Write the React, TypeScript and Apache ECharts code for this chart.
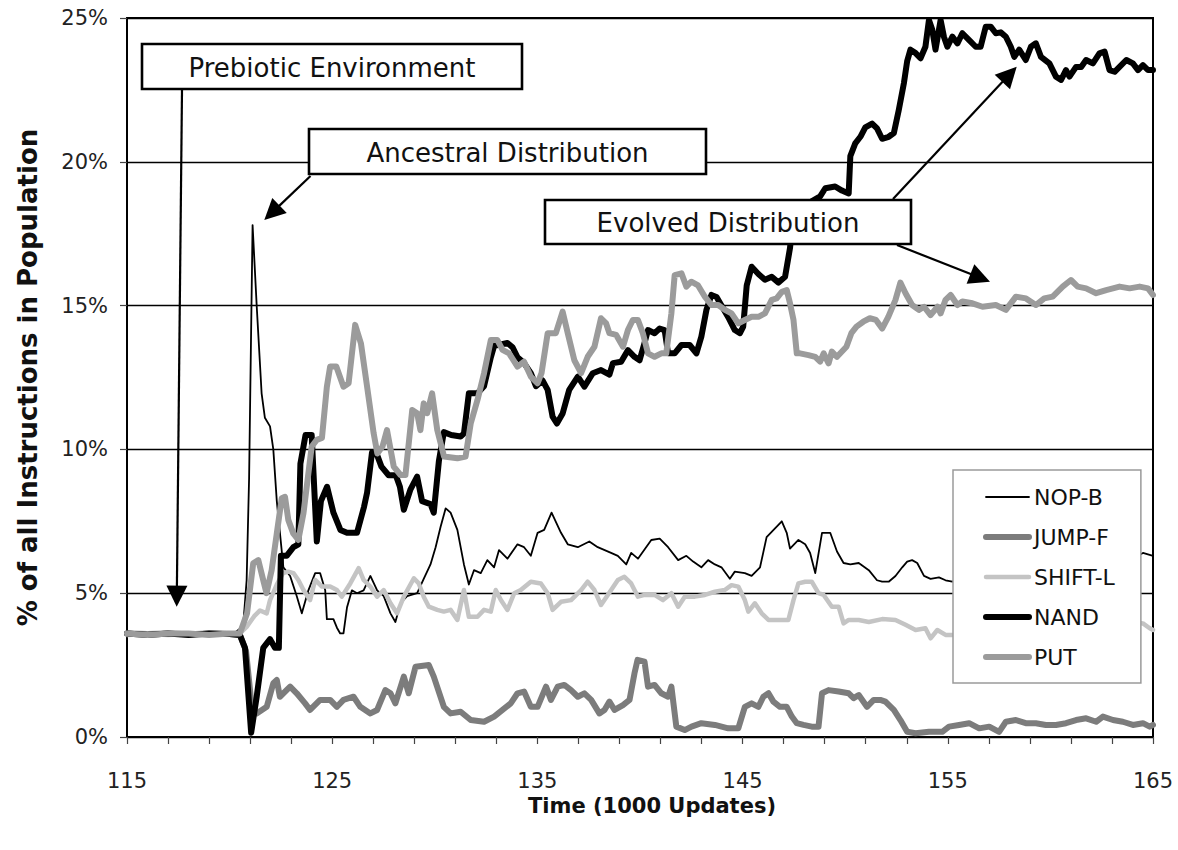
import React, { useEffect, useRef } from 'react';
import * as echarts from 'echarts';

type Pt = [number, number];

const seriesNames = ['NOP-B', 'JUMP-F', 'SHIFT-L', 'NAND', 'PUT'];
const xTickLabels = [115, 125, 135, 145, 155, 165];
const yTickLabels = ['0%', '5%', '10%', '15%', '20%', '25%'];
const xTitle = 'Time (1000 Updates)';
const yTitle = '% of all Instructions in Population';

const nopB: Pt[] = [
  [115, 3.6], [116, 3.62], [117, 3.58], [118, 3.6], [119, 3.62], [120, 3.6], [120.3, 3.65], [120.66, 3.85],
  [120.83, 5.45], [120.95, 9.0], [121.12, 17.8], [121.32, 15.0], [121.56, 11.95], [121.72, 11.1], [121.97, 10.8],
  [122.13, 10.0], [122.3, 8.2], [122.62, 5.9], [122.95, 5.6], [123.27, 4.9], [123.52, 4.3], [123.84, 5.1],
  [124.17, 5.7], [124.41, 5.7], [124.66, 5.1], [124.74, 4.1], [125.06, 4.1], [125.23, 3.8], [125.39, 3.6],
  [125.55, 3.6], [125.72, 4.5], [125.96, 5.1], [126.21, 5.0], [126.53, 5.1], [126.86, 5.6], [127.19, 5.1],
  [127.51, 4.9], [127.84, 4.3], [128.08, 4.0], [128.33, 4.65], [128.65, 4.9], [129.14, 5.0], [129.46, 5.5],
  [129.79, 6.0], [130.04, 6.6], [130.28, 7.3], [130.53, 7.95], [130.77, 7.8], [131.1, 7.2], [131.42, 6.0],
  [131.66, 5.3], [131.91, 5.8], [132.24, 5.7], [132.56, 6.15], [132.89, 5.9], [133.13, 6.5], [133.54, 6.2],
  [134.03, 6.7], [134.35, 6.6], [134.68, 6.3], [135.01, 7.1], [135.33, 7.2], [135.69, 7.8], [136.15, 7.1],
  [136.48, 6.7], [136.97, 6.6], [137.53, 6.8], [137.94, 6.6], [138.59, 6.4], [138.92, 6.3], [139.33, 6.0],
  [139.57, 6.4], [139.9, 6.2], [140.55, 6.85], [140.96, 6.9], [141.37, 6.6], [141.86, 6.15], [142.26, 6.3],
  [142.59, 6.1], [142.99, 5.9], [143.32, 6.15], [143.65, 6.0], [143.97, 5.9], [144.38, 5.5], [144.62, 5.75],
  [145.11, 5.7], [145.44, 5.6], [145.85, 5.9], [146.17, 6.95], [146.58, 7.25], [146.91, 7.5], [147.15, 7.1],
  [147.31, 6.55], [147.72, 6.85], [148.05, 6.7], [148.29, 6.4], [148.54, 5.7], [148.87, 7.1], [149.27, 7.1],
  [149.6, 6.45], [149.92, 6.05], [150.25, 6.0], [150.66, 6.05], [151.15, 5.8], [151.55, 5.45], [151.8, 5.4],
  [152.12, 5.4], [152.45, 5.6], [152.78, 5.9], [153.02, 6.1], [153.26, 6.15], [153.51, 6.05], [153.84, 5.6],
  [154.16, 5.5], [154.57, 5.55], [154.89, 5.45], [155.22, 5.4], [156, 5.6], [157, 5.5], [158, 5.8], [159, 5.7],
  [160, 6.0], [161, 5.9], [162, 6.1], [163, 6.0], [164, 6.2], [164.51, 6.4], [165, 6.3],
];

const jumpF: Pt[] = [
  [115, 3.6], [116, 3.58], [117, 3.6], [118, 3.57], [119, 3.6], [120, 3.58], [120.5, 3.55], [120.8, 3.0],
  [121.1, 0.9], [121.32, 0.82], [121.81, 1.05], [122.13, 1.87], [122.3, 1.98], [122.45, 1.4], [122.95, 1.75],
  [123.27, 1.52], [123.68, 1.17], [123.92, 0.94], [124.41, 1.29], [124.9, 1.29], [125.23, 1.05], [125.55, 1.29],
  [126.04, 1.4], [126.37, 1.05], [126.86, 0.82], [127.19, 0.94], [127.59, 1.63], [127.84, 1.52], [128.08, 1.17],
  [128.49, 2.1], [128.73, 1.52], [129.06, 2.44], [129.71, 2.5], [129.95, 2.1], [130.44, 1.05], [130.77, 0.82],
  [131.26, 0.88], [131.75, 0.59], [132.4, 0.53], [132.89, 0.71], [133.3, 0.94], [133.7, 1.17], [134.03, 1.52],
  [134.35, 1.58], [134.68, 1.05], [135.01, 1.05], [135.42, 1.75], [135.66, 1.29], [135.99, 1.75], [136.31, 1.81],
  [136.64, 1.63], [136.97, 1.4], [137.29, 1.52], [137.62, 1.29], [138.02, 0.82], [138.27, 0.94], [138.51, 1.23],
  [138.76, 0.94], [139.17, 1.11], [139.49, 1.29], [139.73, 2.21], [139.88, 2.68], [140.22, 2.62], [140.39, 1.75],
  [140.71, 1.81], [141.04, 1.52], [141.37, 1.4], [141.53, 1.75], [141.77, 0.36], [142.18, 0.24], [142.51, 0.36],
  [142.99, 0.48], [143.65, 0.42], [144.3, 0.3], [144.79, 0.3], [145.11, 1.05], [145.44, 1.17], [145.77, 1.05],
  [146.01, 1.4], [146.26, 1.52], [146.5, 1.23], [146.82, 1.05], [147.15, 1.05], [147.4, 0.71], [147.64, 0.48],
  [147.97, 0.42], [148.37, 0.36], [148.7, 0.36], [148.87, 1.52], [149.19, 1.63], [149.68, 1.58], [150.17, 1.52],
  [150.41, 1.35], [150.66, 1.46], [151.06, 1.05], [151.39, 1.29], [151.71, 1.29], [151.96, 1.23], [152.37, 0.94],
  [152.69, 0.59], [153.02, 0.18], [153.43, 0.13], [154.08, 0.18], [154.73, 0.18], [155.06, 0.36], [155.55, 0.42],
  [156.04, 0.48], [156.53, 0.3], [157.02, 0.36], [157.5, 0.18], [157.83, 0.53], [158.32, 0.59], [158.8, 0.48],
  [159.29, 0.48], [159.78, 0.42], [160.27, 0.42], [160.76, 0.48], [161.25, 0.59], [161.74, 0.65], [162.23, 0.53],
  [162.56, 0.71], [163.05, 0.59], [163.53, 0.53], [164.02, 0.42], [164.51, 0.48], [164.84, 0.36], [165, 0.42],
];

const shiftL: Pt[] = [
  [115, 3.55], [116, 3.58], [117, 3.55], [118, 3.58], [119, 3.55], [120, 3.57], [120.5, 3.6], [120.83, 3.83],
  [121.2, 4.2], [121.48, 4.4], [121.81, 4.3], [121.97, 4.76], [122.3, 5.3], [122.6, 5.7], [122.86, 5.75],
  [123.11, 5.7], [123.35, 5.46], [123.6, 5.11], [123.92, 4.76], [124.17, 5.46], [124.5, 5.23], [124.9, 5.23],
  [125.23, 5.11], [125.47, 4.88], [125.88, 5.34], [126.29, 5.87], [126.53, 5.46], [126.86, 5.23], [127.19, 4.88],
  [127.51, 5.11], [127.84, 4.65], [128.16, 4.3], [128.49, 4.88], [128.98, 5.52], [129.22, 5.34], [129.46, 4.88],
  [129.71, 4.53], [130.12, 4.42], [130.44, 4.36], [130.77, 4.42], [131.1, 4.07], [131.42, 5.11], [131.66, 4.18],
  [132.08, 4.18], [132.4, 4.42], [132.73, 4.36], [132.97, 5.11], [133.22, 4.76], [133.54, 4.42], [133.87, 5.0],
  [134.19, 5.11], [134.68, 5.4], [135.17, 5.34], [135.5, 5.0], [135.74, 4.42], [136.15, 4.7], [136.64, 4.76],
  [137.13, 5.11], [137.45, 5.4], [137.78, 5.11], [138.1, 4.59], [138.43, 4.94], [138.92, 5.46], [139.24, 5.57],
  [139.57, 5.34], [139.9, 4.88], [140.22, 4.94], [140.71, 4.94], [141.12, 4.76], [141.53, 5.0], [141.86, 4.53],
  [142.18, 4.88], [142.67, 4.88], [143.16, 4.94], [143.65, 5.05], [144.13, 5.11], [144.46, 5.28], [144.79, 5.23],
  [145.11, 4.76], [145.28, 4.36], [145.6, 4.65], [145.93, 4.3], [146.26, 4.07], [146.91, 4.07], [147.23, 4.07],
  [147.48, 4.76], [147.72, 5.34], [148.05, 5.4], [148.37, 5.4], [148.7, 5.0], [148.95, 4.94], [149.35, 4.53],
  [149.68, 4.53], [149.92, 3.95], [150.17, 4.07], [150.66, 4.07], [151.15, 4.0], [151.8, 4.1], [152.45, 4.07],
  [152.94, 3.9], [153.43, 3.72], [153.91, 3.78], [154.16, 3.43], [154.49, 3.72], [154.89, 3.55], [155.3, 3.55],
  [156, 3.7], [157, 3.6], [158, 3.8], [159, 3.7], [160, 3.9], [161, 3.8], [162, 3.9], [163, 3.85], [164, 4.0],
  [164.51, 3.95], [164.84, 3.78], [165, 3.72],
];

const nand: Pt[] = [
  [115, 3.6], [116, 3.55], [117, 3.6], [118, 3.55], [119, 3.6], [120, 3.58], [120.5, 3.55], [120.75, 3.1],
  [121.05, 0.15], [121.32, 1.4], [121.64, 3.1], [121.97, 3.4], [122.21, 3.1], [122.4, 3.1], [122.5, 6.3],
  [122.78, 6.3], [123.11, 6.6], [123.35, 6.7], [123.45, 9.5], [123.7, 10.5], [124.0, 10.5], [124.25, 6.8],
  [124.45, 8.2], [124.75, 8.7], [125.06, 7.8], [125.4, 7.2], [125.72, 7.1], [126.21, 7.1], [126.55, 8.0],
  [126.7, 8.5], [126.94, 9.9], [127.19, 9.8], [127.4, 9.4], [127.75, 9.1], [128.1, 9.1], [128.3, 8.7],
  [128.49, 7.9], [128.81, 8.6], [129.14, 9.05], [129.38, 8.2], [129.79, 8.1], [129.95, 7.8], [130.2, 9.6],
  [130.44, 10.6], [130.8, 10.5], [131.26, 10.45], [131.42, 10.55], [131.66, 11.95], [132.08, 11.95], [132.4, 12.2],
  [132.73, 13.2], [132.89, 13.6], [133.54, 13.7], [133.79, 13.55], [134.03, 13.2], [134.35, 13.0], [134.68, 12.65],
  [134.93, 12.2], [135.25, 12.4], [135.5, 12.07], [135.74, 11.14], [135.95, 10.9], [136.23, 11.25], [136.55, 12.07],
  [136.97, 12.53], [137.29, 12.18], [137.7, 12.65], [138.1, 12.76], [138.51, 12.6], [138.68, 13.0], [139.08, 13.05],
  [139.41, 13.45], [139.73, 13.22], [139.98, 13.1], [140.22, 13.7], [140.39, 14.15], [140.71, 14.04], [140.96, 14.2],
  [141.2, 14.15], [141.37, 13.34], [141.69, 13.34], [142.02, 13.63], [142.42, 13.63], [142.75, 13.34], [142.99, 13.92],
  [143.24, 14.86], [143.48, 15.37], [143.73, 15.3], [143.97, 15.0], [144.3, 14.6], [144.62, 14.15], [144.87, 14.04],
  [145.03, 14.27], [145.2, 15.7], [145.44, 16.35], [145.77, 16.1], [146.09, 15.9], [146.42, 16.0], [146.75, 15.8],
  [147.07, 16.0], [147.31, 17.0], [147.45, 18.0], [147.8, 18.4], [148.3, 18.6], [148.78, 18.8], [149.03, 19.08],
  [149.51, 19.14], [149.84, 19.0], [150.17, 18.9], [150.25, 20.2], [150.49, 20.64], [150.74, 20.87], [150.98, 21.2],
  [151.31, 21.33], [151.55, 21.16], [151.8, 20.8], [152.12, 20.87], [152.37, 21.0], [152.61, 21.8], [152.86, 22.73],
  [153.02, 23.5], [153.18, 23.9], [153.43, 23.78], [153.67, 23.6], [153.91, 24.0], [154.08, 24.93], [154.24, 24.6],
  [154.4, 23.9], [154.65, 24.93], [154.81, 24.35], [154.98, 24.0], [155.22, 24.35], [155.47, 24.12], [155.71, 24.47],
  [156.04, 24.23], [156.36, 24.0], [156.6, 24.0], [156.85, 24.7], [157.09, 24.7], [157.34, 24.47], [157.58, 24.5],
  [157.83, 24.35], [158.07, 24.0], [158.24, 23.65], [158.48, 23.9], [158.8, 23.54], [159.05, 24.0], [159.29, 24.12],
  [159.54, 23.65], [159.95, 23.42], [160.27, 22.96], [160.52, 22.85], [160.76, 23.19], [160.93, 22.96], [161.25, 23.3],
  [161.5, 23.3], [161.74, 23.54], [162.07, 23.42], [162.39, 23.77], [162.64, 23.83], [162.88, 23.19], [163.13, 23.13],
  [163.37, 23.3], [163.7, 23.54], [164.02, 23.42], [164.27, 23.19], [164.51, 23.36], [164.76, 23.19], [165, 23.19],
];

const put: Pt[] = [
  [115, 3.6], [116, 3.55], [117, 3.6], [118, 3.6], [119, 3.55], [120, 3.6], [120.5, 3.6], [120.85, 4.3],
  [121.15, 6.04], [121.4, 6.15], [121.64, 5.45], [121.8, 5.0], [122.05, 5.8], [122.3, 7.08], [122.54, 8.3],
  [122.7, 8.35], [122.86, 7.55], [123.1, 7.08], [123.35, 6.85], [123.6, 7.78], [124.0, 10.1], [124.25, 10.33],
  [124.5, 10.4], [124.74, 12.18], [124.9, 12.88], [125.2, 12.88], [125.55, 12.18], [125.8, 12.3], [126.12, 14.33],
  [126.4, 13.69], [126.7, 12.18], [127.02, 10.56], [127.2, 9.86], [127.45, 10.1], [127.67, 10.67], [128.0, 9.4],
  [128.33, 9.11], [128.57, 9.11], [128.9, 11.37], [129.14, 11.26], [129.3, 10.67], [129.46, 11.6], [129.63, 11.26],
  [129.87, 11.95], [130.12, 10.67], [130.45, 9.75], [131.1, 9.69], [131.5, 9.75], [131.75, 10.9], [132.08, 11.72],
  [132.4, 12.65], [132.73, 13.8], [133.05, 13.8], [133.3, 13.46], [133.62, 13.34], [134.03, 12.88], [134.35, 13.05],
  [134.68, 12.53], [135.01, 12.3], [135.2, 12.65], [135.5, 14.04], [135.9, 14.04], [136.23, 14.79], [136.48, 14.04],
  [136.8, 13.1], [137.13, 12.65], [137.45, 13.22], [137.78, 13.57], [138.1, 14.56], [138.35, 14.38], [138.51, 14.04],
  [138.84, 13.98], [139.17, 13.57], [139.41, 14.15], [139.65, 14.5], [139.9, 14.5], [140.14, 14.04], [140.39, 13.34],
  [140.71, 13.22], [141.04, 13.34], [141.28, 13.34], [141.53, 14.73], [141.69, 16.06], [142.02, 16.12], [142.26, 15.66],
  [142.5, 15.83], [142.83, 15.7], [143.16, 15.31], [143.48, 15.02], [143.81, 15.02], [144.14, 14.85], [144.46, 14.73],
  [144.79, 14.38], [145.11, 14.5], [145.44, 14.61], [145.77, 14.61], [146.09, 14.73], [146.42, 15.2], [146.66, 15.25],
  [146.91, 15.48], [147.15, 15.54], [147.31, 15.08], [147.48, 14.5], [147.64, 13.34], [147.8, 13.34], [148.21, 13.28],
  [148.54, 13.22], [148.78, 13.05], [148.95, 13.34], [149.19, 12.99], [149.35, 13.4], [149.6, 13.22], [150.06, 13.57],
  [150.3, 14.04], [150.55, 14.27], [150.88, 14.44], [151.2, 14.56], [151.5, 14.5], [151.8, 14.2], [152.1, 14.61],
  [152.45, 15.2], [152.69, 15.8], [152.94, 15.43], [153.26, 15.02], [153.59, 14.85], [153.84, 14.96], [154.16, 14.67],
  [154.5, 14.96], [154.65, 14.73], [154.89, 15.2], [155.14, 15.37], [155.47, 15.02], [155.71, 15.14], [156.2, 15.08],
  [156.69, 14.96], [157.34, 15.02], [157.83, 14.85], [158.32, 15.31], [158.81, 15.25], [159.29, 15.02], [159.7, 15.25],
  [160.11, 15.31], [160.6, 15.66], [161.0, 15.89], [161.33, 15.66], [161.74, 15.6], [162.23, 15.43], [162.72, 15.54],
  [163.37, 15.66], [163.86, 15.6], [164.35, 15.66], [164.76, 15.6], [165, 15.37],
];

const seriesData: Pt[][] = [nopB, jumpF, shiftL, nand, put];
const seriesColors = ['#000000', '#7c7c7c', '#c4c4c4', '#000000', '#9b9b9b'];
const seriesWidths = [1.8, 6, 4.5, 6, 6];

const annotationTexts = ['Prebiotic Environment', 'Ancestral Distribution', 'Evolved Distribution'];
const annotationBoxes = [
  { x: 142, y: 44, w: 380, h: 45 },
  { x: 309, y: 129, w: 397, h: 45 },
  { x: 545, y: 200, w: 366, h: 44 },
];
const arrowLines = [
  [182, 90, 176.7, 606.7],
  [310.5, 176, 264.3, 220],
  [893, 199, 1016.7, 66.7],
  [897, 245, 990, 281.7],
];

const FONT = '"DejaVu Sans", Verdana, sans-serif';

function arrowGraphics(x1: number, y1: number, x2: number, y2: number) {
  const dx = x2 - x1;
  const dy = y2 - y1;
  const L = Math.hypot(dx, dy);
  const ux = dx / L;
  const uy = dy / L;
  const hl = 21;
  const hw = 10.5;
  const bx = x2 - ux * hl;
  const by = y2 - uy * hl;
  return [
    {
      type: 'line',
      z: 100,
      shape: { x1, y1, x2: bx + ux * 3, y2: by + uy * 3 },
      style: { stroke: '#000', lineWidth: 2.2 },
    },
    {
      type: 'polygon',
      z: 100,
      shape: { points: [[x2, y2], [bx - uy * hw, by + ux * hw], [bx + uy * hw, by - ux * hw]] },
      style: { fill: '#000' },
    },
  ];
}

export default function App() {
  const ref = useRef<HTMLDivElement>(null);

  useEffect(() => {
    if (!ref.current) return;
    const chart = echarts.init(ref.current, undefined, { renderer: 'svg' });

    const graphics: any[] = [];
    annotationBoxes.forEach((b, i) => {
      graphics.push({
        type: 'rect',
        z: 100,
        shape: { x: b.x, y: b.y, width: b.w, height: b.h },
        style: { fill: '#fff', stroke: '#000', lineWidth: 2.6 },
      });
      graphics.push({
        type: 'text',
        z: 101,
        x: b.x + b.w / 2,
        y: b.y + b.h / 2 + 1,
        style: {
          text: annotationTexts[i],
          fontSize: 26,
          fontFamily: FONT,
          fill: '#111',
          align: 'center',
          verticalAlign: 'middle',
        },
      });
    });
    arrowLines.forEach((a) => graphics.push(...arrowGraphics(a[0], a[1], a[2], a[3])));

    chart.setOption({
      animation: false,
      backgroundColor: '#fff',
      grid: {
        left: 127,
        right: 25,
        top: 18,
        bottom: 113,
        show: true,
        borderColor: '#000',
        borderWidth: 2,
        backgroundColor: 'transparent',
      },
      legend: {
        show: true,
        orient: 'vertical',
        left: 953,
        top: 470,
        data: seriesNames,
        backgroundColor: '#fff',
        borderColor: '#9a9a9a',
        borderWidth: 1.5,
        borderRadius: 0,
        padding: [14, 26, 13, 30],
        itemWidth: 43,
        itemHeight: 14,
        itemGap: 14,
        selectedMode: false,
        itemStyle: { opacity: 0, borderWidth: 0 },
        lineStyle: { width: 'inherit' },
        textStyle: { fontSize: 22, fontFamily: FONT, color: '#111', lineHeight: 26 },
      },
      xAxis: {
        type: 'value',
        min: 115,
        max: 165,
        interval: 2,
        name: xTitle,
        nameLocation: 'middle',
        nameGap: 58,
        nameTextStyle: {
          fontSize: 21,
          fontWeight: 'bold',
          fontFamily: FONT,
          color: '#111',
          padding: [0, 0, 0, 24],
        },
        axisLine: { show: true, onZero: false, lineStyle: { color: '#000', width: 2 } },
        axisTick: { show: true, length: 7, lineStyle: { color: '#444', width: 1.2 } },
        axisLabel: {
          margin: 33,
          fontSize: 21,
          fontFamily: FONT,
          color: '#222',
          formatter: (v: number) => (xTickLabels.includes(Math.round(v)) ? String(Math.round(v)) : ''),
        },
        splitLine: { show: false },
      },
      yAxis: {
        type: 'value',
        min: 0,
        max: 25,
        interval: 5,
        name: yTitle,
        nameLocation: 'middle',
        nameGap: 86,
        nameTextStyle: { fontSize: 26, fontWeight: 'bold', fontFamily: FONT, color: '#111' },
        axisLine: { show: true, lineStyle: { color: '#000', width: 2 } },
        axisTick: { show: true, length: 7, lineStyle: { color: '#444', width: 1.2 } },
        axisLabel: {
          margin: 19,
          fontSize: 21,
          fontFamily: FONT,
          color: '#222',
          formatter: (v: number) => yTickLabels[Math.round(v / 5)] ?? '',
        },
        splitLine: { show: true, lineStyle: { color: '#000', width: 1.4 } },
      },
      series: seriesNames.map((name, i) => ({
        name,
        type: 'line',
        data: seriesData[i],
        symbol: 'none',
        showSymbol: false,
        clip: true,
        z: 2 + i * 0.1,
        lineStyle: {
          color: seriesColors[i],
          width: seriesWidths[i],
          join: 'round',
          cap: 'round',
        },
        itemStyle: { color: seriesColors[i] },
      })),
      graphic: graphics,
    });

    return () => chart.dispose();
  }, []);

  return (
    <div
      ref={ref}
      style={{ position: 'fixed', left: 0, top: 0, width: 1178, height: 850, background: '#fff' }}
    />
  );
}
